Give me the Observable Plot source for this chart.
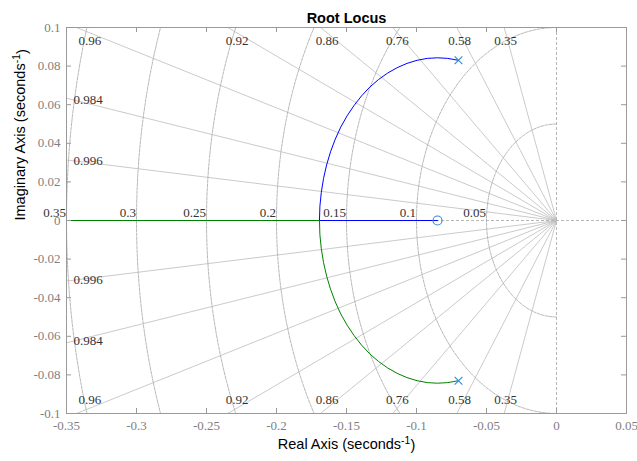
<!DOCTYPE html>
<html><head><meta charset="utf-8">
<script src="https://cdn.jsdelivr.net/npm/d3@7"></script>
<script src="https://cdn.jsdelivr.net/npm/@observablehq/plot@0.6"></script>
<style>body{margin:0;background:#fff} svg{display:block}</style>
</head><body><div id="chart"></div>
<script>
const title = "Root Locus";
const xLabelParts = ["Real Axis (seconds", "-1", ")"];
const yLabelParts = ["Imaginary Axis (seconds", "-1", ")"];
const xTicks = [-0.35, -0.3, -0.25, -0.2, -0.15, -0.1, -0.05, 0, 0.05];
const yTicks = [-0.1, -0.08, -0.06, -0.04, -0.02, 0, 0.02, 0.04, 0.06, 0.08, 0.1];
const dampingRatios = [0.35, 0.58, 0.76, 0.86, 0.92, 0.96, 0.984, 0.996];
const naturalFreqs = [0.05, 0.1, 0.15, 0.2, 0.25, 0.3, 0.35];
const poleRe = [-0.07, -0.07];
const poleIm = [0.083, -0.083];
const zeroRe = [-0.085];
const zeroIm = [0];
// branch 1 (blue): upper pole -> arc -> break-in -> zero
const branch1Re = [-0.0700, -0.0777, -0.0850, -0.0923, -0.0996, -0.1068, -0.1138, -0.1206, -0.1272, -0.1334, -0.1392, -0.1446, -0.1496, -0.1541, -0.1580, -0.1614, -0.1642, -0.1664, -0.1680, -0.1690, -0.1693, -0.0850];
const branch1Im = [0.0830, 0.0840, 0.0843, 0.0840, 0.0830, 0.0814, 0.0792, 0.0764, 0.0730, 0.0691, 0.0646, 0.0596, 0.0542, 0.0484, 0.0422, 0.0356, 0.0288, 0.0218, 0.0146, 0.0074, 0, 0];
// branch 2 (green): lower pole -> arc -> break-in -> toward -infinity
const branch2Re = [-0.0700, -0.0777, -0.0850, -0.0923, -0.0996, -0.1068, -0.1138, -0.1206, -0.1272, -0.1334, -0.1392, -0.1446, -0.1496, -0.1541, -0.1580, -0.1614, -0.1642, -0.1664, -0.1680, -0.1690, -0.1693, -0.3500];
const branch2Im = [-0.0830, -0.0840, -0.0843, -0.0840, -0.0830, -0.0814, -0.0792, -0.0764, -0.0730, -0.0691, -0.0646, -0.0596, -0.0542, -0.0484, -0.0422, -0.0356, -0.0288, -0.0218, -0.0146, -0.0074, 0, 0];

const xDomain = [-0.35, 0.05], yDomain = [-0.1, 0.1];
const branches = [
  ...branch1Re.map((re, i) => ({branch: 1, re, im: branch1Im[i]})),
  ...branch2Re.map((re, i) => ({branch: 2, re, im: branch2Im[i]}))
];
const poles = poleRe.map((re, i) => ({re, im: poleIm[i]}));
const zeros = zeroRe.map((re, i) => ({re, im: zeroIm[i]}));

// s-plane grid geometry
const rays = dampingRatios.flatMap(z => [1, -1].map(s => ({z, s, t: Math.tan(Math.acos(z))})));
const arcPts = naturalFreqs.flatMap(wn => d3.range(90, 270.1, 1.5).map(a => ({wn, x: wn * Math.cos(a * Math.PI / 180), y: wn * Math.sin(a * Math.PI / 180)})));
const yEdge = yDomain[1];
const edgeRays = rays.filter(r => -yEdge / r.t >= xDomain[0]);
const topLabels = edgeRays.filter(r => r.s > 0);
const bottomLabels = edgeRays.filter(r => r.s < 0);
const sideLabels = rays.filter(r => -yEdge / r.t < xDomain[0]);

const W = 637, H = 461, mL = 66, mR = 11, mT = 27, mB = 48;
const innerW = W - mL - mR, innerH = H - mT - mB;
const tickGray = "#7f7f7f", frameGray = "#9a9a9a", gridGray = "#bdbdbd", labelDark = "#333333";
const fmt = d => String(d);
const serif = "'Liberation Serif', 'Times New Roman', serif";
const sans = "'Liberation Sans', Arial, Helvetica, sans-serif";
const labelX = d => -(yEdge - 0.0028) / d.t;

const chart = Plot.plot({
  width: W, height: H,
  marginLeft: mL, marginRight: mR, marginTop: mT, marginBottom: mB,
  x: {domain: xDomain},
  y: {domain: yDomain},
  style: {fontFamily: serif, fontSize: "13px", background: "white", overflow: "visible"},
  marks: [
    // damping-ratio rays
    Plot.link(rays, {x1: 0, y1: 0, x2: -1, y2: d => d.s * d.t, stroke: gridGray, strokeWidth: 0.8, clip: true}),
    // natural-frequency arcs
    Plot.line(arcPts, {x: "x", y: "y", z: "wn", stroke: "#b0b0b0", strokeWidth: 0.9, strokeDasharray: "3,1.2", clip: true}),
    // axes through origin
    Plot.ruleY([0], {stroke: "#b0b0b0", strokeDasharray: "3,2", strokeWidth: 0.9}),
    Plot.ruleX([0], {stroke: "#b0b0b0", strokeDasharray: "3,2", strokeWidth: 0.9}),
    // grid labels
    Plot.text(topLabels, {x: labelX, y: yEdge, text: d => fmt(d.z), dy: 13, textAnchor: "middle", fill: labelDark, fontSize: 13}),
    Plot.text(bottomLabels, {x: labelX, y: -yEdge, text: d => fmt(d.z), dy: -14, textAnchor: "middle", fill: labelDark, fontSize: 13}),
    Plot.text(sideLabels, {x: xDomain[0], y: d => d.s * (-xDomain[0] - 0.005) * d.t, text: d => fmt(d.z), dx: 7, textAnchor: "start", fill: labelDark, fontSize: 13}),
    Plot.text(naturalFreqs, {x: d => -d, y: 0, text: d => fmt(d), dy: -8, dx: -0.5, textAnchor: "end", fill: labelDark, fontSize: 13}),
    // locus branches
    Plot.line(branches, {x: "re", y: "im", z: "branch", stroke: d => d.branch === 1 ? "#0000ff" : "#008000", strokeWidth: 1, clip: true}),
    // poles and zeros
    Plot.dot(poles, {x: "re", y: "im", symbol: "times", r: 3.6, stroke: "#2f8ad6", strokeWidth: 1.1}),
    Plot.dot(zeros, {x: "re", y: "im", symbol: "circle", r: 4.5, stroke: "#2f8ad6", fill: "none", strokeWidth: 1.1}),
    // frame and inward ticks on all sides
    Plot.frame({stroke: frameGray, strokeWidth: 1}),
    Plot.ruleX(xTicks, {x: d => d, insetTop: innerH - 5, stroke: frameGray}),
    Plot.ruleX(xTicks, {x: d => d, insetBottom: innerH - 5, stroke: frameGray}),
    Plot.ruleY(yTicks, {y: d => d, insetRight: innerW - 5, stroke: frameGray}),
    Plot.ruleY(yTicks, {y: d => d, insetLeft: innerW - 5, stroke: frameGray}),
    Plot.axisX({ticks: xTicks, tickSize: 0, tickPadding: 7, tickFormat: fmt, label: null, fill: tickGray, fontSize: 13}),
    Plot.axisY({ticks: yTicks, tickSize: 0, tickPadding: 6, tickFormat: fmt, label: null, fill: tickGray, fontSize: 13}),
    // title & axis labels
    Plot.text([title], {frameAnchor: "top", dy: -15, fontFamily: sans, fontWeight: "bold", fontSize: 14.5, fill: "black"}),
    Plot.text([xLabelParts.join("")], {frameAnchor: "bottom", dy: 35, fontFamily: sans, fontSize: 14.5, fill: "black"}),
    Plot.text([yLabelParts.join("")], {frameAnchor: "left", dx: -46, rotate: -90, fontFamily: sans, fontSize: 14.5, fill: "black"})
  ]
});

// superscripts for the axis labels
for (const parts of [xLabelParts, yLabelParts]) {
  const full = parts.join("");
  d3.select(chart).selectAll("text").filter(function() { return this.textContent === full; }).each(function() {
    const t = d3.select(this);
    t.text(null);
    t.append("tspan").text(parts[0]);
    t.append("tspan").attr("dy", "-0.45em").attr("font-size", "0.72em").text(parts[1]);
    t.append("tspan").attr("dy", "0.45em").text(parts[2]);
  });
}
document.getElementById("chart").append(chart);
</script>
</body></html>
